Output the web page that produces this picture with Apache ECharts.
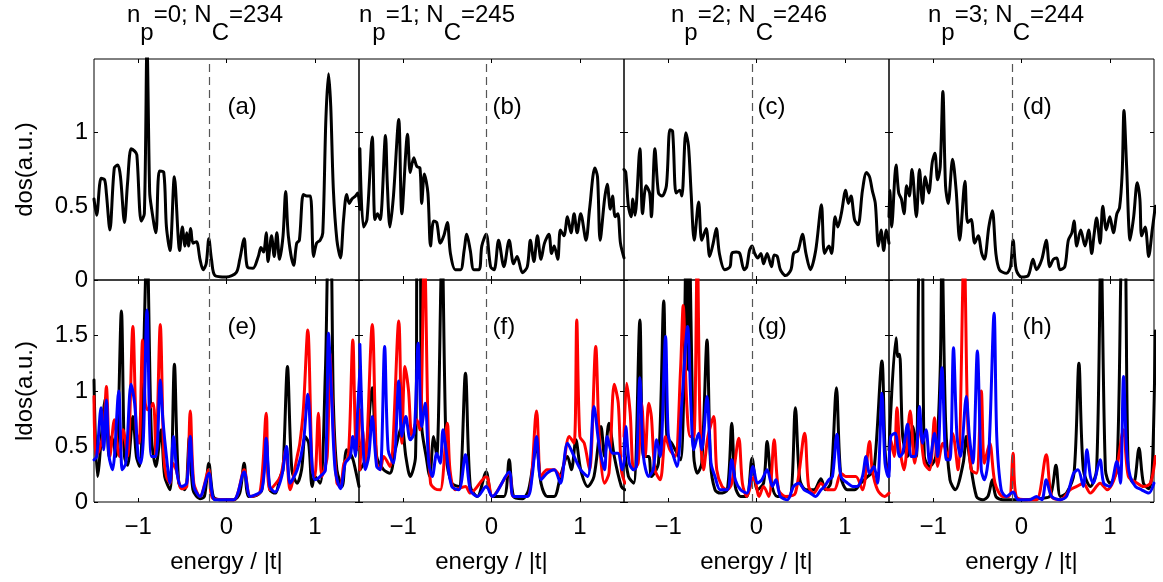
<!DOCTYPE html>
<html><head><meta charset="utf-8">
<script src="https://cdn.jsdelivr.net/npm/echarts@6/dist/echarts.min.js"></script>
<style>html,body{margin:0;padding:0;background:#fff}#c{width:1163px;height:582px}</style>
</head><body><div id="c"></div>
<script>
// ---------------- data ----------------
const titleParts = [['0','234'],['1','245'],['2','246'],['3','244']];
const panelLetters = ['a','b','c','d','e','f','g','h'];
const fermiLevels = [-0.2,-0.055,-0.05,-0.1];
const xTicks = [-1,0,1];
const dosTicks = [0,0.5,1];
const ldosTicks = [0,0.5,1,1.5];

const dosA = [[-1.50,0.55],[-1.47,0.44],[-1.42,0.69],[-1.38,0.68],[-1.36,0.59],[-1.32,0.34],[-1.27,0.76],[-1.23,0.78],[-1.20,0.70],[-1.155,0.39],[-1.12,0.66],[-1.08,0.89],[-1.04,0.875],[-1.015,0.85],[-0.966,0.40],[-0.93,0.45],[-0.90,1.6],[-0.87,0.60],[-0.852,0.50],[-0.80,0.32],[-0.76,0.74],[-0.71,0.73],[-0.68,0.36],[-0.64,0.20],[-0.59,0.70],[-0.53,0.20],[-0.50,0.36],[-0.47,0.23],[-0.45,0.32],[-0.43,0.23],[-0.405,0.35],[-0.38,0.25],[-0.34,0.26],[-0.30,0.14],[-0.265,0.07],[-0.23,0.11],[-0.20,0.28],[-0.17,0.14],[-0.13,0.03],[0,0.02],[0.11,0.05],[0.15,0.14],[0.20,0.28],[0.235,0.09],[0.30,0.08],[0.36,0.16],[0.39,0.22],[0.42,0.19],[0.45,0.32],[0.47,0.125],[0.51,0.30],[0.54,0.16],[0.57,0.32],[0.60,0.14],[0.64,0.30],[0.67,0.60],[0.70,0.30],[0.76,0.10],[0.795,0.25],[0.825,0.27],[0.87,0.58],[0.91,0.57],[0.95,0.57],[0.985,0.16],[1.02,0.25],[1.06,0.27],[1.09,0.32],[1.125,1.09],[1.155,1.40],[1.18,1.18],[1.21,0.61],[1.25,0.27],[1.29,0.15],[1.325,0.41],[1.36,0.58],[1.39,0.52],[1.42,0.55],[1.46,0.57],[1.485,0.59],[1.51,0.48]];
const dosB = [[-1.49,0.89],[-1.45,0.36],[-1.41,0.41],[-1.35,0.97],[-1.32,0.41],[-1.29,0.45],[-1.26,0.41],[-1.20,0.98],[-1.18,0.66],[-1.15,0.36],[-1.11,0.57],[-1.05,1.09],[-1.015,0.45],[-0.95,0.99],[-0.92,0.73],[-0.88,0.83],[-0.845,0.77],[-0.81,0.76],[-0.79,0.52],[-0.76,0.72],[-0.72,0.59],[-0.69,0.23],[-0.655,0.40],[-0.62,0.39],[-0.58,0.25],[-0.54,0.30],[-0.50,0.39],[-0.465,0.18],[-0.41,0.07],[-0.35,0.07],[-0.31,0.20],[-0.28,0.31],[-0.24,0.20],[-0.20,0.07],[-0.14,0.07],[-0.11,0.23],[-0.06,0.31],[-0.01,0.09],[0.03,0.07],[0.08,0.27],[0.14,0.09],[0.20,0.27],[0.25,0.11],[0.29,0.16],[0.35,0.05],[0.405,0.09],[0.44,0.27],[0.48,0.125],[0.52,0.30],[0.56,0.14],[0.60,0.25],[0.65,0.31],[0.68,0.18],[0.71,0.23],[0.75,0.14],[0.78,0.34],[0.82,0.30],[0.86,0.43],[0.90,0.32],[0.935,0.45],[0.97,0.32],[1.01,0.45],[1.07,0.27],[1.11,0.48],[1.17,0.76],[1.20,0.70],[1.23,0.27],[1.28,0.55],[1.31,0.65],[1.345,0.48],[1.37,0.57],[1.40,0.43],[1.43,0.45],[1.46,0.25],[1.50,0.15]];
const dosC = [[-1.50,0.75],[-1.48,0.73],[-1.45,0.50],[-1.42,0.43],[-1.40,0.55],[-1.375,0.44],[-1.32,0.89],[-1.29,0.45],[-1.25,0.64],[-1.21,0.59],[-1.19,0.43],[-1.15,0.89],[-1.11,0.59],[-1.07,0.57],[-1.02,0.64],[-0.98,1.02],[-0.95,1.01],[-0.91,0.59],[-0.87,0.61],[-0.845,0.57],[-0.80,1.00],[-0.77,0.91],[-0.74,0.59],[-0.705,0.27],[-0.655,0.53],[-0.62,0.27],[-0.57,0.35],[-0.53,0.16],[-0.49,0.25],[-0.455,0.35],[-0.42,0.18],[-0.36,0.07],[-0.30,0.09],[-0.28,0.18],[-0.23,0.19],[-0.19,0.18],[-0.14,0.07],[-0.11,0.09],[-0.08,0.20],[-0.05,0.23],[-0.02,0.18],[0.015,0.15],[0.05,0.18],[0.08,0.11],[0.12,0.18],[0.17,0.09],[0.20,0.17],[0.235,0.16],[0.27,0.07],[0.33,0.03],[0.39,0.07],[0.42,0.18],[0.47,0.20],[0.52,0.31],[0.56,0.18],[0.61,0.07],[0.67,0.20],[0.735,0.51],[0.77,0.18],[0.82,0.23],[0.85,0.18],[0.89,0.43],[0.92,0.36],[0.96,0.45],[1.01,0.61],[1.04,0.52],[1.07,0.57],[1.11,0.41],[1.15,0.375],[1.20,0.61],[1.245,0.73],[1.28,0.70],[1.31,0.61],[1.345,0.52],[1.38,0.23],[1.41,0.34],[1.44,0.20],[1.47,0.34],[1.50,0.25]];
const dosD = [[-1.50,0.43],[-1.49,0.61],[-1.47,0.36],[-1.42,0.78],[-1.39,0.59],[-1.36,0.55],[-1.33,0.45],[-1.30,0.64],[-1.27,0.57],[-1.24,0.75],[-1.19,0.43],[-1.155,0.75],[-1.12,0.52],[-1.09,0.70],[-1.05,0.59],[-1.01,0.80],[-0.98,0.86],[-0.95,0.68],[-0.92,0.77],[-0.89,1.28],[-0.86,0.64],[-0.83,0.52],[-0.78,0.82],[-0.74,0.61],[-0.70,0.27],[-0.64,0.67],[-0.61,0.39],[-0.57,0.41],[-0.53,0.25],[-0.49,0.30],[-0.45,0.18],[-0.42,0.14],[-0.37,0.36],[-0.33,0.47],[-0.29,0.18],[-0.25,0.07],[-0.17,0.045],[-0.125,0.09],[-0.095,0.27],[-0.06,0.07],[0,0.02],[0.076,0.03],[0.13,0.14],[0.17,0.07],[0.23,0.14],[0.28,0.27],[0.32,0.09],[0.36,0.14],[0.40,0.15],[0.435,0.07],[0.49,0.09],[0.53,0.27],[0.57,0.32],[0.595,0.40],[0.625,0.23],[0.67,0.34],[0.72,0.23],[0.76,0.34],[0.795,0.18],[0.82,0.30],[0.85,0.42],[0.89,0.25],[0.92,0.50],[0.96,0.34],[1.00,0.43],[1.04,0.32],[1.08,0.45],[1.11,0.49],[1.14,0.73],[1.16,1.15],[1.19,0.77],[1.23,0.27],[1.27,0.43],[1.31,0.66],[1.34,0.55],[1.36,0.30],[1.40,0.36],[1.44,0.16],[1.48,0.34],[1.515,0.50]];

const ldosE_black = [[-1.50,1.10],[-1.46,0.23],[-1.37,0.94],[-1.33,0.41],[-1.30,0.59],[-1.25,0.41],[-1.19,1.72],[-1.155,0.41],[-1.12,0.33],[-1.06,0.77],[-1.02,0.41],[-0.985,0.32],[-0.90,2.3],[-0.85,0.59],[-0.80,0.32],[-0.74,0.65],[-0.70,0.23],[-0.64,0.11],[-0.59,1.24],[-0.54,0.17],[-0.47,0.11],[-0.42,0.59],[-0.38,0.11],[-0.30,0.03],[-0.25,0.05],[-0.20,0.35],[-0.15,0.05],[-0.08,0.02],[0.08,0.02],[0.15,0.08],[0.20,0.35],[0.25,0.05],[0.34,0.06],[0.40,0.11],[0.45,0.53],[0.49,0.11],[0.55,0.08],[0.61,0.23],[0.64,0.29],[0.69,1.22],[0.74,0.29],[0.80,0.17],[0.85,0.29],[0.89,0.59],[0.93,0.53],[0.97,0.14],[1.00,0.23],[1.06,0.17],[1.12,1.19],[1.155,2.3],[1.18,2.3],[1.21,0.89],[1.25,0.29],[1.31,0.14],[1.36,0.47],[1.42,0.41],[1.46,0.29],[1.50,0.14]];
const ldosE_red = [[-1.50,0.95],[-1.48,0.41],[-1.44,0.47],[-1.39,0.65],[-1.36,1.04],[-1.32,0.41],[-1.27,0.74],[-1.23,0.47],[-1.21,0.41],[-1.17,0.65],[-1.12,0.41],[-1.06,1.58],[-1.02,0.62],[-0.99,0.53],[-0.95,1.46],[-0.92,0.89],[-0.89,0.83],[-0.83,0.89],[-0.80,0.41],[-0.75,1.60],[-0.71,0.41],[-0.68,0.23],[-0.64,0.17],[-0.61,0.35],[-0.57,0.29],[-0.51,0.12],[-0.45,0.14],[-0.41,0.82],[-0.37,0.17],[-0.30,0.05],[-0.20,0.29],[-0.15,0.03],[0.08,0.02],[0.20,0.29],[0.27,0.05],[0.38,0.09],[0.45,0.80],[0.49,0.11],[0.61,0.23],[0.67,0.47],[0.72,0.11],[0.80,0.41],[0.83,0.53],[0.87,0.83],[0.92,1.55],[0.97,0.29],[1.00,0.23],[1.04,0.80],[1.08,0.23],[1.14,0.41],[1.17,1.34],[1.21,0.65],[1.25,0.17],[1.29,0.14],[1.33,0.35],[1.38,0.41],[1.43,1.46],[1.46,0.59],[1.485,0.47],[1.51,0.83]];
const ldosE_blue = [[-1.50,0.38],[-1.47,0.41],[-1.42,0.85],[-1.39,0.47],[-1.36,0.92],[-1.33,0.41],[-1.29,0.29],[-1.22,1.00],[-1.18,0.29],[-1.14,0.35],[-1.08,1.06],[-1.04,0.89],[-1.00,0.41],[-0.97,0.35],[-0.94,0.59],[-0.90,1.73],[-0.85,0.41],[-0.80,0.41],[-0.75,1.10],[-0.72,0.74],[-0.68,0.41],[-0.64,0.17],[-0.60,0.59],[-0.56,0.26],[-0.51,0.14],[-0.45,0.17],[-0.41,0.59],[-0.37,0.14],[-0.30,0.05],[-0.20,0.26],[-0.13,0.02],[0.08,0.02],[0.20,0.27],[0.27,0.05],[0.40,0.11],[0.45,0.575],[0.49,0.14],[0.55,0.09],[0.625,0.23],[0.68,0.50],[0.72,0.17],[0.80,0.29],[0.87,0.53],[0.92,0.97],[0.97,0.32],[1.00,0.20],[1.06,0.23],[1.12,0.29],[1.155,1.52],[1.19,0.95],[1.23,0.29],[1.29,0.12],[1.345,0.35],[1.40,0.41],[1.43,0.59],[1.46,0.41],[1.485,0.83],[1.51,1.19]];

const ldosF_black = [[-1.49,0.29],[-1.43,0.38],[-1.35,1.03],[-1.30,0.41],[-1.22,0.29],[-1.15,0.26],[-1.09,0.47],[-1.015,0.68],[-0.97,0.41],[-0.92,0.23],[-0.86,0.41],[-0.84,2.3],[-0.81,2.3],[-0.79,0.68],[-0.74,0.41],[-0.70,0.23],[-0.655,0.59],[-0.62,0.41],[-0.56,2.3],[-0.51,0.41],[-0.45,0.17],[-0.37,0.14],[-0.295,1.16],[-0.24,0.14],[-0.16,0.05],[-0.06,0.27],[0.01,0.05],[0.14,0.05],[0.20,0.38],[0.25,0.05],[0.35,0.03],[0.42,0.11],[0.51,0.50],[0.56,0.17],[0.63,0.05],[0.71,0.05],[0.78,0.23],[0.86,0.41],[0.905,0.29],[0.955,0.56],[1.01,0.29],[1.09,0.14],[1.16,0.23],[1.24,0.68],[1.28,0.41],[1.33,0.71],[1.39,0.41],[1.47,0.14],[1.51,0.11]];
const ldosF_red = [[-1.49,0.29],[-1.46,0.65],[-1.43,0.35],[-1.35,1.60],[-1.30,0.35],[-1.26,0.29],[-1.22,0.41],[-1.15,0.32],[-1.05,1.63],[-1.015,0.53],[-0.98,1.22],[-0.94,1.01],[-0.90,0.59],[-0.845,0.74],[-0.81,0.65],[-0.76,2.3],[-0.72,0.74],[-0.69,0.17],[-0.64,0.12],[-0.58,0.11],[-0.50,0.71],[-0.47,0.29],[-0.41,0.11],[-0.295,0.14],[-0.24,0.08],[-0.06,0.23],[0.01,0.05],[0.20,0.26],[0.25,0.05],[0.405,0.05],[0.51,0.82],[0.56,0.23],[0.63,0.29],[0.71,0.29],[0.78,0.23],[0.88,0.59],[0.935,0.53],[0.965,1.64],[1.00,0.59],[1.05,0.53],[1.11,0.29],[1.18,1.40],[1.22,0.59],[1.28,0.17],[1.33,0.26],[1.39,1.06],[1.435,0.89],[1.47,0.29],[1.51,0.17]];
const ldosF_blue = [[-1.49,1.42],[-1.46,0.65],[-1.43,0.29],[-1.39,0.41],[-1.35,0.77],[-1.30,0.32],[-1.26,0.29],[-1.21,1.40],[-1.17,0.47],[-1.11,0.35],[-1.05,1.09],[-1.015,0.59],[-0.97,0.77],[-0.92,0.56],[-0.875,0.62],[-0.83,1.43],[-0.79,0.68],[-0.75,0.89],[-0.71,0.35],[-0.67,0.23],[-0.62,0.44],[-0.58,0.35],[-0.55,0.65],[-0.51,0.44],[-0.45,0.14],[-0.37,0.11],[-0.295,0.425],[-0.24,0.11],[-0.16,0.05],[-0.06,0.14],[0.01,0.05],[0.20,0.27],[0.25,0.05],[0.405,0.05],[0.46,0.23],[0.51,0.59],[0.56,0.20],[0.63,0.26],[0.71,0.29],[0.78,0.17],[0.86,0.53],[0.935,0.41],[1.01,0.29],[1.09,0.23],[1.16,0.86],[1.22,0.50],[1.28,0.29],[1.31,0.59],[1.37,0.44],[1.43,0.44],[1.48,0.29],[1.51,0.41]];

const ldosG_black = [[-1.50,0.53],[-1.45,0.23],[-1.39,0.17],[-1.32,1.64],[-1.28,0.41],[-1.22,0.41],[-1.19,0.23],[-1.11,0.35],[-1.05,1.81],[-1.015,0.59],[-0.96,0.53],[-0.86,0.38],[-0.795,2.3],[-0.77,1.19],[-0.76,2.3],[-0.71,0.41],[-0.67,0.26],[-0.62,0.35],[-0.56,1.46],[-0.52,0.35],[-0.47,0.11],[-0.41,0.08],[-0.33,0.11],[-0.28,0.71],[-0.24,0.14],[-0.18,0.05],[-0.11,0.05],[-0.05,0.395],[0.01,0.11],[0.08,0.17],[0.12,0.545],[0.17,0.17],[0.235,0.05],[0.37,0.05],[0.44,0.85],[0.49,0.20],[0.56,0.11],[0.65,0.11],[0.73,0.21],[0.78,0.11],[0.84,0.17],[0.905,1.03],[0.955,0.23],[1.03,0.11],[1.11,0.11],[1.18,0.17],[1.26,0.23],[1.33,0.29],[1.42,1.27],[1.455,0.47],[1.485,0.26],[1.515,0.44]];
const ldosG_red = [[-1.50,0.59],[-1.47,1.07],[-1.43,0.80],[-1.39,0.29],[-1.34,0.35],[-1.30,0.89],[-1.26,0.41],[-1.22,0.89],[-1.19,0.77],[-1.15,0.29],[-1.09,0.20],[-1.03,0.59],[-0.98,0.47],[-0.92,0.41],[-0.86,1.19],[-0.83,1.77],[-0.79,0.89],[-0.75,0.59],[-0.71,0.59],[-0.67,2.3],[-0.64,0.74],[-0.60,0.29],[-0.55,0.59],[-0.485,0.77],[-0.45,0.29],[-0.39,0.14],[-0.33,0.11],[-0.28,0.17],[-0.20,0.575],[-0.16,0.17],[-0.11,0.05],[-0.03,0.23],[0.03,0.05],[0.08,0.14],[0.14,0.05],[0.20,0.56],[0.25,0.11],[0.33,0.05],[0.44,0.08],[0.545,0.62],[0.59,0.14],[0.65,0.08],[0.73,0.17],[0.80,0.11],[0.88,0.11],[0.955,0.26],[1.01,0.23],[1.07,0.23],[1.125,0.23],[1.20,0.11],[1.28,0.545],[1.31,0.29],[1.37,0.11],[1.45,0.05],[1.50,0.08]];
const ldosG_blue = [[-1.50,0.41],[-1.48,0.68],[-1.44,0.35],[-1.39,0.29],[-1.36,0.32],[-1.32,1.12],[-1.28,0.41],[-1.22,0.23],[-1.17,0.29],[-1.13,0.56],[-1.09,0.41],[-1.03,1.49],[-1.00,0.62],[-0.96,0.47],[-0.90,0.32],[-0.845,0.89],[-0.78,1.58],[-0.74,0.83],[-0.71,0.47],[-0.655,0.62],[-0.62,0.47],[-0.56,0.95],[-0.515,0.35],[-0.47,0.23],[-0.41,0.11],[-0.33,0.11],[-0.28,0.38],[-0.24,0.20],[-0.18,0.11],[-0.11,0.08],[-0.04,0.32],[0.01,0.17],[0.06,0.20],[0.12,0.29],[0.18,0.14],[0.22,0.20],[0.27,0.05],[0.35,0.02],[0.42,0.14],[0.48,0.17],[0.54,0.11],[0.61,0.08],[0.67,0.05],[0.73,0.11],[0.77,0.14],[0.82,0.20],[0.86,0.23],[0.91,0.61],[0.955,0.23],[1.03,0.17],[1.09,0.14],[1.14,0.14],[1.20,0.23],[1.24,0.41],[1.28,0.26],[1.33,0.32],[1.37,0.17],[1.42,0.98],[1.455,0.35],[1.49,0.23],[1.515,0.41]];

const ldosH_black = [[-1.50,0.47],[-1.42,1.48],[-1.40,1.31],[-1.38,1.33],[-1.345,0.59],[-1.29,0.41],[-1.23,0.68],[-1.19,0.41],[-1.155,2.3],[-1.125,2.3],[-1.10,0.41],[-1.04,0.32],[-0.97,0.41],[-0.92,1.19],[-0.90,2.3],[-0.86,0.74],[-0.81,0.20],[-0.75,0.11],[-0.66,0.35],[-0.625,0.59],[-0.59,0.41],[-0.51,0.05],[-0.44,0.02],[-0.38,0.05],[-0.33,0.20],[-0.29,0.05],[-0.21,0.02],[0.02,0.02],[0.17,0.03],[0.32,0.05],[0.39,0.33],[0.44,0.05],[0.51,0.08],[0.595,0.26],[0.65,1.25],[0.70,0.29],[0.78,0.14],[0.85,0.29],[0.90,2.3],[0.95,0.29],[1.00,0.17],[1.08,0.29],[1.14,2.3],[1.17,2.3],[1.21,0.26],[1.27,0.17],[1.33,0.485],[1.38,0.17],[1.44,0.12],[1.48,0.29],[1.515,1.54]];
const ldosH_red = [[-1.50,0.29],[-1.48,0.56],[-1.44,0.41],[-1.41,0.85],[-1.375,0.47],[-1.33,0.29],[-1.26,0.82],[-1.21,0.35],[-1.155,0.68],[-1.10,0.35],[-1.04,0.29],[-0.985,0.76],[-0.95,0.32],[-0.89,0.53],[-0.83,0.41],[-0.78,0.62],[-0.72,0.29],[-0.65,2.3],[-0.61,0.74],[-0.57,0.29],[-0.51,0.26],[-0.455,1.00],[-0.42,0.35],[-0.36,0.53],[-0.30,0.17],[-0.21,0.05],[-0.14,0.05],[-0.095,0.44],[-0.06,0.05],[0.06,0.02],[0.17,0.02],[0.28,0.425],[0.34,0.05],[0.44,0.02],[0.55,0.11],[0.625,0.14],[0.70,0.17],[0.78,0.08],[0.89,0.17],[0.97,0.11],[1.06,0.23],[1.155,0.65],[1.21,0.23],[1.31,0.17],[1.38,0.14],[1.46,0.17],[1.515,0.41]];
const ldosH_blue = [[-1.50,0.23],[-1.48,0.59],[-1.43,0.62],[-1.38,0.41],[-1.345,0.44],[-1.29,0.70],[-1.25,0.41],[-1.20,0.41],[-1.155,0.86],[-1.12,0.53],[-1.08,0.65],[-1.04,0.35],[-0.985,0.62],[-0.95,0.41],[-0.90,1.21],[-0.85,0.38],[-0.81,0.38],[-0.77,1.39],[-0.73,0.59],[-0.69,0.41],[-0.625,0.95],[-0.59,0.59],[-0.55,0.35],[-0.50,1.36],[-0.455,0.29],[-0.42,0.20],[-0.37,0.44],[-0.31,1.70],[-0.28,0.59],[-0.23,0.11],[-0.17,0.05],[-0.095,0.09],[-0.04,0.02],[0.095,0.02],[0.17,0.05],[0.23,0.02],[0.28,0.20],[0.34,0.05],[0.44,0.02],[0.51,0.05],[0.59,0.26],[0.64,0.29],[0.70,0.14],[0.74,0.47],[0.78,0.23],[0.81,0.17],[0.89,0.38],[0.93,0.17],[1.00,0.14],[1.08,0.365],[1.12,0.17],[1.155,1.13],[1.19,0.47],[1.23,0.23],[1.29,0.14],[1.36,0.11],[1.44,0.08],[1.50,0.17]];

// ---------------- layout / style ----------------
const FONT = '"Liberation Sans", Arial, Helvetica, sans-serif';
const colLeft = [94, 359, 624, 889];
const colW = 265;
const rowTop = [59, 280];
const rowH = [221, 222];
const COLORS = ['#000000', '#ff0000', '#0000ff'];

const panelSeries = [
  [dosA], [dosB], [dosC], [dosD],
  [ldosE_black, ldosE_red, ldosE_blue],
  [ldosF_black, ldosF_red, ldosF_blue],
  [ldosG_black, ldosG_red, ldosG_blue],
  [ldosH_black, ldosH_red, ldosH_blue]
];

const fmtX = v => (v < 0 ? '\u2212' + Math.abs(v) : String(v));
const grids = [], xAxes = [], yAxes = [], series = [], graphics = [];

for (let i = 0; i < 8; i++) {
  const row = i < 4 ? 0 : 1, col = i % 4;
  grids.push({left: colLeft[col], top: rowTop[row], width: colW, height: rowH[row],
    show: true, borderColor: '#000', borderWidth: 1, backgroundColor: 'transparent'});
  const tickStyle = {color: '#000', width: 1};
  const labelStyle = {color: '#000', fontSize: 24, fontFamily: FONT};
  const noLine = {show: false, onZero: false};
  xAxes.push({type: 'value', gridIndex: i, min: -1.5, max: 1.5, position: 'bottom',
    axisLine: noLine, splitLine: {show: false},
    axisTick: {show: true, inside: true, length: 4, customValues: xTicks, lineStyle: tickStyle},
    axisLabel: Object.assign({show: row === 1, customValues: xTicks, formatter: fmtX, margin: 13}, labelStyle),
    name: row === 1 ? 'energy / |t|' : '', nameLocation: 'middle', nameGap: 48,
    nameTextStyle: {color: '#000', fontSize: 24, fontFamily: FONT}});
  xAxes.push({type: 'value', gridIndex: i, min: -1.5, max: 1.5, position: 'top',
    axisLine: noLine, splitLine: {show: false},
    axisTick: {show: true, inside: true, length: 4, customValues: xTicks, lineStyle: tickStyle},
    axisLabel: {show: false}});
  const yMax = row === 0 ? 1.5 : 2;
  const yT = row === 0 ? dosTicks : ldosTicks;
  yAxes.push({type: 'value', gridIndex: i, min: 0, max: yMax, position: 'left',
    axisLine: noLine, splitLine: {show: false},
    axisTick: {show: true, inside: true, length: 4, customValues: yT, lineStyle: tickStyle},
    axisLabel: Object.assign({show: col === 0, customValues: yT, margin: 6, formatter: v => String(v)}, labelStyle),
    name: col === 0 ? (row === 0 ? 'dos(a.u.)' : 'ldos(a.u.)') : '',
    nameLocation: 'middle', nameGap: 57, nameRotate: 90,
    nameTextStyle: {color: '#000', fontSize: 24, fontFamily: FONT}});
  yAxes.push({type: 'value', gridIndex: i, min: 0, max: yMax, position: 'right',
    axisLine: noLine, splitLine: {show: false},
    axisTick: {show: true, inside: true, length: 4, customValues: yT, lineStyle: tickStyle},
    axisLabel: {show: false}});

  panelSeries[i].forEach((d, k) => {
    const s = {type: 'line', xAxisIndex: 2 * i, yAxisIndex: 2 * i, data: d,
      showSymbol: false, symbol: 'none', clip: true, animation: false, silent: true,
      smooth: 0.3,
      lineStyle: {color: COLORS[k], width: 3, join: 'round', cap: 'round'}, z: 3 + k};
    if (k === 0) {
      s.markLine = {silent: true, symbol: 'none', animation: false, label: {show: false},
        lineStyle: {color: '#555', type: [8, 5], width: 1.2},
        data: [{xAxis: fermiLevels[col]}]};
    }
    series.push(s);
  });

  graphics.push({type: 'text', x: colLeft[col] + colW / 2 + 1, y: row === 0 ? 107 : 327, z: 10,
    style: {text: '(' + panelLetters[i] + ')', fill: '#000', font: '24px ' + FONT,
      align: 'left', verticalAlign: 'middle'}});
}

const titleX = [205, 437, 749, 1006];
titleParts.forEach((p, j) => {
  graphics.push({type: 'text', x: titleX[j], y: 24, z: 10,
    style: {text: '{m|n}{s|p}{m|=' + p[0] + '; N}{s|C}{m|=' + p[1] + '}',
      align: 'center', verticalAlign: 'middle', fill: '#000', font: '24px ' + FONT,
      rich: {m: {fontSize: 24, fontFamily: FONT, fill: '#000', lineHeight: 26, verticalAlign: 'top'},
             s: {fontSize: 24, fontFamily: FONT, fill: '#000', lineHeight: 42, verticalAlign: 'bottom'}}}});
});

const chart = echarts.init(document.getElementById('c'), null, {renderer: 'canvas'});
chart.setOption({
  backgroundColor: '#fff',
  animation: false,
  grid: grids, xAxis: xAxes, yAxis: yAxes, series: series, graphic: graphics
});
</script>
</body></html>
